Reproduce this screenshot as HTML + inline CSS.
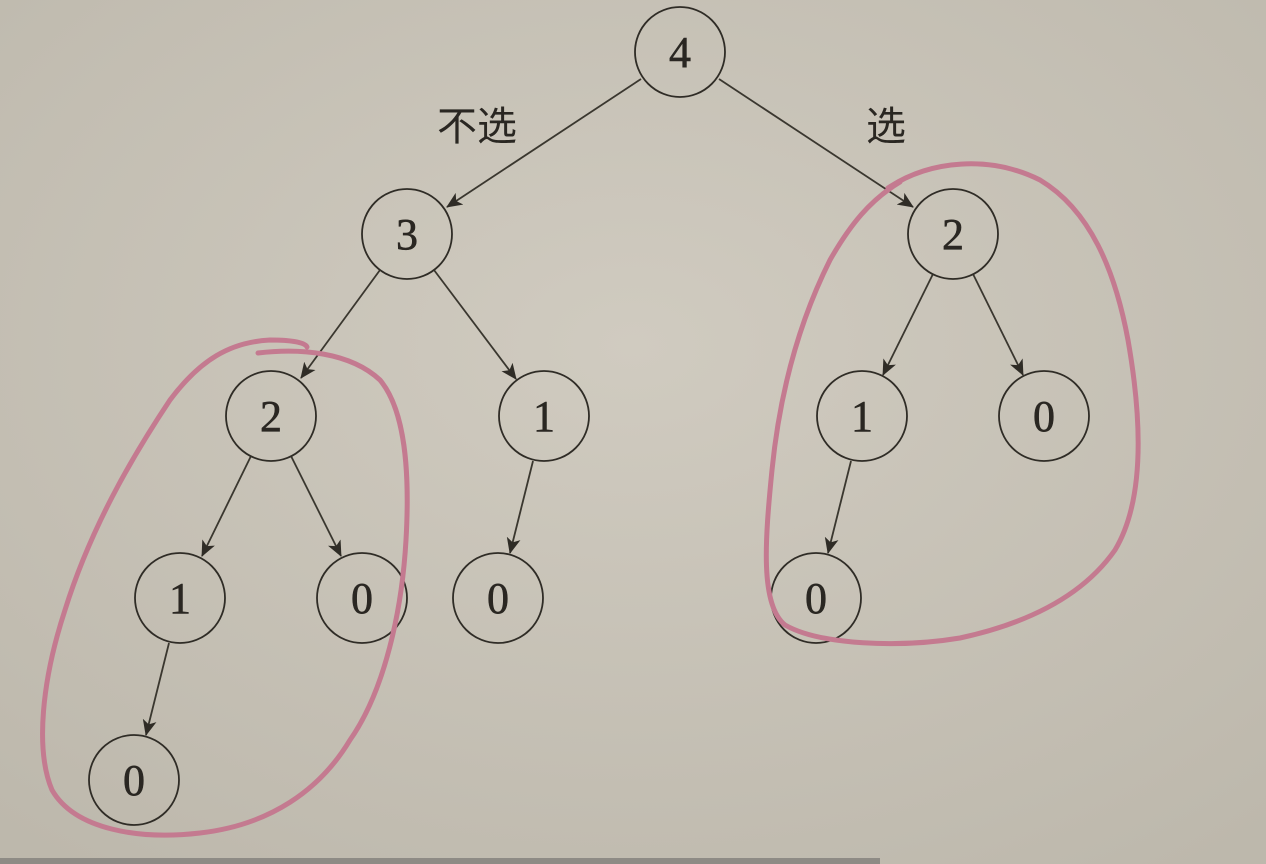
<!DOCTYPE html>
<html><head><meta charset="utf-8"><style>
html,body{margin:0;padding:0;width:1266px;height:864px;overflow:hidden;background:#c6c1b5}
</style></head><body>
<svg width="1266" height="864" xmlns="http://www.w3.org/2000/svg">
<defs>
<radialGradient id="bg" cx="0.5" cy="0.4" r="0.75">
<stop offset="0" stop-color="#d0cbc0"/><stop offset="1" stop-color="#bdb8ac"/>
</radialGradient>
<marker id="a" markerWidth="16" markerHeight="14" refX="15" refY="7" orient="auto" markerUnits="userSpaceOnUse">
<path d="M0,0 L16,7 L0,14 L4,7 Z" fill="#2f2c26"/>
</marker>
</defs>
<rect width="1266" height="864" fill="url(#bg)"/>
<g stroke="#3a372f" stroke-width="1.8" marker-end="url(#a)">
<line x1="641" y1="79" x2="447" y2="207"/>
<line x1="719" y1="79" x2="913" y2="207"/>
<line x1="380" y1="270" x2="301" y2="378"/>
<line x1="434" y1="270" x2="516" y2="379"/>
<line x1="933" y1="274" x2="883" y2="375"/>
<line x1="973" y1="274" x2="1023" y2="375"/>
<line x1="251" y1="456" x2="202" y2="556"/>
<line x1="291" y1="456" x2="341" y2="556"/>
<line x1="533" y1="461" x2="510" y2="553"/>
<line x1="851" y1="461" x2="828" y2="553"/>
<line x1="169" y1="643" x2="146" y2="735"/>
</g>
<g fill="none" stroke="#2f2c26" stroke-width="1.8">
<circle cx="680" cy="52" r="45"/>
<circle cx="407" cy="234" r="45"/>
<circle cx="953" cy="234" r="45"/>
<circle cx="271" cy="416" r="45"/>
<circle cx="544" cy="416" r="45"/>
<circle cx="862" cy="416" r="45"/>
<circle cx="1044" cy="416" r="45"/>
<circle cx="180" cy="598" r="45"/>
<circle cx="362" cy="598" r="45"/>
<circle cx="498" cy="598" r="45"/>
<circle cx="816" cy="598" r="45"/>
<circle cx="134" cy="780" r="45"/>
</g>
<g font-family="'Liberation Serif',serif" font-size="44" fill="#2a2722" text-anchor="middle" stroke="#2a2722" stroke-width="0.6">
<text x="680" y="67">4</text>
<text x="407" y="249">3</text>
<text x="953" y="249">2</text>
<text x="271" y="431">2</text>
<text x="544" y="431">1</text>
<text x="862" y="431">1</text>
<text x="1044" y="431">0</text>
<text x="180" y="613">1</text>
<text x="362" y="613">0</text>
<text x="498" y="613">0</text>
<text x="816" y="613">0</text>
<text x="134" y="795">0</text>
</g>
<g font-family="'Liberation Sans','Noto Sans CJK SC',sans-serif" font-size="40" fill="#2a2722" text-anchor="middle">
<text x="477" y="140">不选</text>
<text x="886" y="140">选</text>
</g>
<g fill="none" stroke="#c47a90" stroke-width="5" stroke-linecap="round" stroke-linejoin="round">
<path d="M258,353 C300,348 350,352 380,380 C405,410 410,470 406,540 C402,610 385,690 350,740 C320,790 270,825 200,833 C140,840 75,830 52,790 C35,750 42,680 65,610 C90,530 130,460 170,400 C200,360 230,342 270,340 C290,340 305,342 307,347"/>
<path d="M888,188 C930,160 990,155 1040,180 C1090,210 1115,270 1128,340 C1142,420 1145,500 1115,550 C1080,600 1020,625 960,638 C900,648 820,645 785,625 C760,605 765,540 772,470 C780,390 800,320 830,260 C850,225 870,200 900,182"/>
</g>
<rect x="0" y="858" width="880" height="6" fill="#8e8b85"/>
</svg>
</body></html>
